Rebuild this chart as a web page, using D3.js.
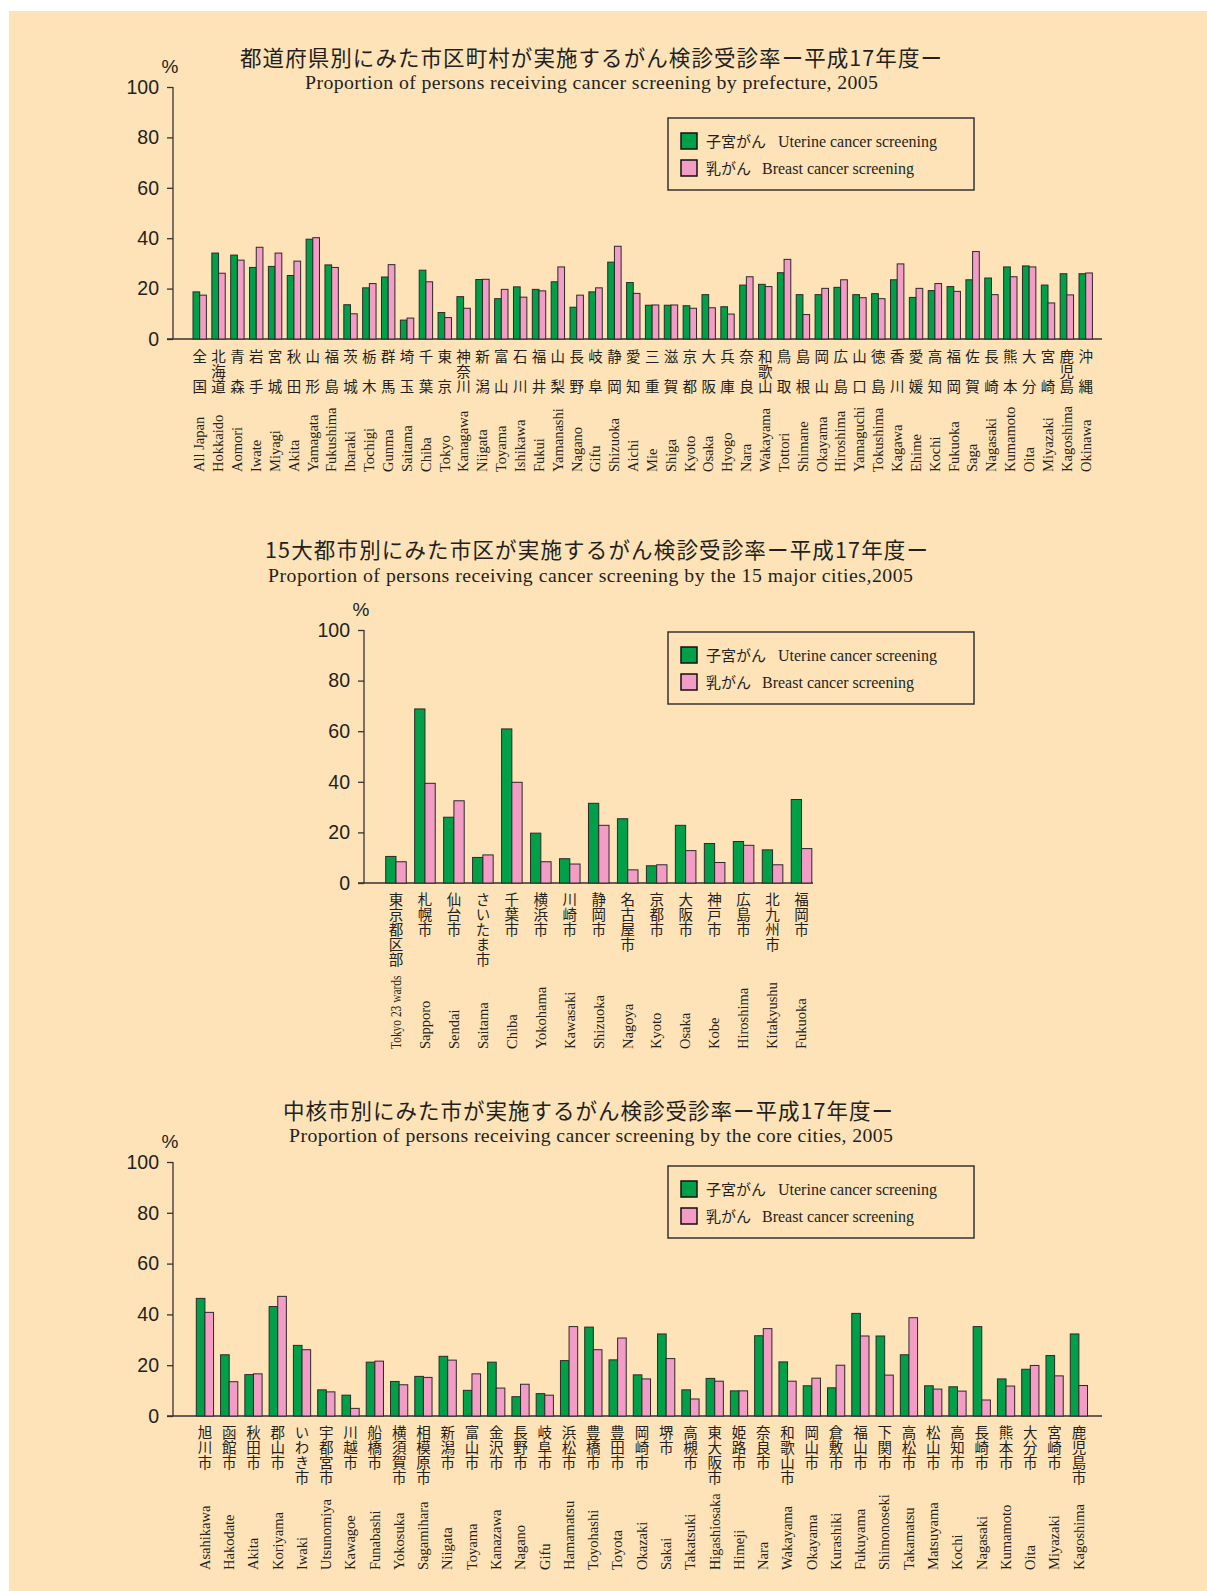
<!DOCTYPE html>
<html lang="ja">
<head>
<meta charset="UTF-8">
<title>がん検診受診率 平成17年度</title>
<script src="https://d3js.org/d3.v7.min.js"></script>
<style>
  body { margin: 0; background: #fff; }
  .jp { font-family: "Noto Sans CJK JP", "Noto Sans", sans-serif; fill: #231f20; }
  .en { font-family: "Liberation Serif", "DejaVu Serif", serif; fill: #231f20; }
  .num { font-family: "Liberation Sans", Arial, sans-serif; fill: #231f20; }
  .vert { writing-mode: vertical-rl; }
</style>
</head>
<body>
<div id="chart"></div>
<script>
// ---- data ----
var yTicks = [0, 20, 40, 60, 80, 100];
var seriesKeys = ["uterine", "breast"];
var seriesJa = ["子宮がん", "乳がん"];
var seriesEn = ["Uterine cancer screening", "Breast cancer screening"];
var seriesColor = ["#00a048", "#f39cc6"];

var prefJa = ["全国","北海道","青森","岩手","宮城","秋田","山形","福島","茨城","栃木","群馬","埼玉","千葉","東京","神奈川","新潟","富山","石川","福井","山梨","長野","岐阜","静岡","愛知","三重","滋賀","京都","大阪","兵庫","奈良","和歌山","鳥取","島根","岡山","広島","山口","徳島","香川","愛媛","高知","福岡","佐賀","長崎","熊本","大分","宮崎","鹿児島","沖縄"];
var prefEn = ["All Japan","Hokkaido","Aomori","Iwate","Miyagi","Akita","Yamagata","Fukushima","Ibaraki","Tochigi","Gunma","Saitama","Chiba","Tokyo","Kanagawa","Niigata","Toyama","Ishikawa","Fukui","Yamanashi","Nagano","Gifu","Shizuoka","Aichi","Mie","Shiga","Kyoto","Osaka","Hyogo","Nara","Wakayama","Tottori","Shimane","Okayama","Hiroshima","Yamaguchi","Tokushima","Kagawa","Ehime","Kochi","Fukuoka","Saga","Nagasaki","Kumamoto","Oita","Miyazaki","Kagoshima","Okinawa"];
var prefUterine = [18.7,34.1,33.3,28.4,28.8,25.2,39.6,29.4,13.6,20.3,24.6,7.5,27.3,10.5,16.8,23.6,16.0,20.7,19.7,22.7,12.6,18.7,30.5,22.4,13.4,13.4,13.2,17.6,12.8,21.4,21.7,26.3,17.6,17.6,20.5,17.6,18.0,23.5,16.5,19.2,20.8,23.5,24.2,28.6,29.0,21.4,25.9,25.9];
var prefBreast = [17.4,26.1,31.3,36.4,34.1,30.9,40.2,28.4,10.0,22.0,29.5,8.3,22.7,8.5,12.2,23.7,19.7,16.6,19.1,28.6,17.4,20.3,36.8,18.1,13.5,13.5,12.2,12.4,9.9,24.7,20.8,31.6,9.7,20.1,23.5,16.4,16.0,29.8,20.1,22.0,18.9,34.7,17.6,24.7,28.6,14.3,17.5,26.2];

var cityJa = ["東京都区部","札幌市","仙台市","さいたま市","千葉市","横浜市","川崎市","静岡市","名古屋市","京都市","大阪市","神戸市","広島市","北九州市","福岡市"];
var cityEn = ["Tokyo 23 wards","Sapporo","Sendai","Saitama","Chiba","Yokohama","Kawasaki","Shizuoka","Nagoya","Kyoto","Osaka","Kobe","Hiroshima","Kitakyushu","Fukuoka"];
var cityUterine = [10.5,68.8,26.0,10.1,60.9,19.7,9.6,31.5,25.4,6.8,22.8,15.6,16.4,13.1,33.0];
var cityBreast = [8.4,39.4,32.5,11.1,39.8,8.4,7.5,22.8,5.2,7.2,12.8,8.1,14.9,7.2,13.6];

var coreJa = ["旭川市","函館市","秋田市","郡山市","いわき市","宇都宮市","川越市","船橋市","横須賀市","相模原市","新潟市","富山市","金沢市","長野市","岐阜市","浜松市","豊橋市","豊田市","岡崎市","堺市","高槻市","東大阪市","姫路市","奈良市","和歌山市","岡山市","倉敷市","福山市","下関市","高松市","松山市","高知市","長崎市","熊本市","大分市","宮崎市","鹿児島市"];
var coreEn = ["Asahikawa","Hakodate","Akita","Koriyama","Iwaki","Utsunomiya","Kawagoe","Funabashi","Yokosuka","Sagamihara","Niigata","Toyama","Kanazawa","Nagano","Gifu","Hamamatsu","Toyohashi","Toyota","Okazaki","Sakai","Takatsuki","Higashiosaka","Himeji","Nara","Wakayama","Okayama","Kurashiki","Fukuyama","Shimonoseki","Takamatsu","Matsuyama","Kochi","Nagasaki","Kumamoto","Oita","Miyazaki","Kagoshima"];
var coreUterine = [46.3,24.1,16.3,43.1,27.8,10.3,8.2,21.2,13.6,15.6,23.5,10.1,21.2,7.6,8.8,21.8,35.0,22.1,16.2,32.3,10.3,14.8,9.9,31.6,21.3,11.9,11.1,40.4,31.5,24.1,11.9,11.5,35.2,14.6,18.4,23.8,32.3];
var coreBreast = [40.8,13.5,16.6,47.1,26.1,9.5,3.0,21.6,12.3,15.2,22.0,16.6,11.0,12.5,8.2,35.2,26.1,30.7,14.6,22.6,6.7,13.7,9.9,34.4,13.7,14.9,20.0,31.5,16.1,38.7,10.6,9.8,6.3,11.8,19.9,15.8,12.0];

var width = 1207, height = 1591;

var svg = d3.select("#chart").append("svg")
    .attr("width", width)
    .attr("height", height);

svg.append("rect")
    .attr("x", 9).attr("y", 11)
    .attr("width", width - 9).attr("height", height - 11)
    .attr("fill", "#fee3b8");

function drawChart(c) {
    var g = svg.append("g");
    var rows = c.ja.map(function(d, i) {
        return { ja: d, en: c.en[i], uterine: c.uterine[i], breast: c.breast[i] };
    });

    var y = d3.scaleLinear().domain([0, 100]).range([c.y0, c.y100]);
    var x = d3.scaleBand().domain(c.ja).range(c.barRange).paddingInner(0.29).paddingOuter(0);
    var xs = d3.scaleBand().domain(seriesKeys).range([0, x.bandwidth()]);

    // titles
    g.append("text").attr("class", "jp")
        .attr("x", c.titleX[0]).attr("y", c.titleY)
        .attr("font-size", 21.5)
        .attr("textLength", c.titleX[1] - c.titleX[0]).attr("lengthAdjust", "spacing")
        .text(c.title);
    g.append("text").attr("class", "en")
        .attr("x", c.subX[0]).attr("y", c.subY)
        .attr("font-size", 19.8)
        .attr("textLength", c.subX[1] - c.subX[0]).attr("lengthAdjust", "spacing")
        .text(c.subtitle);

    // y axis
    var yAxis = g.append("g")
        .attr("transform", "translate(" + c.axisX + ",0)")
        .call(d3.axisLeft(y).tickValues(yTicks).tickSize(6).tickPadding(8));
    yAxis.select(".domain").attr("stroke", "#333").attr("stroke-width", 1.3)
        .attr("d", "M0," + c.y0 + "V" + c.y100);
    yAxis.selectAll(".tick line").attr("stroke", "#333").attr("stroke-width", 1.3);
    yAxis.selectAll(".tick text")
        .attr("class", "num")
        .attr("font-size", 19.5)
        .attr("fill", "#231f20");

    g.append("text").attr("class", "num")
        .attr("x", c.axisX - 3).attr("y", c.y100 - 14)
        .attr("text-anchor", "middle")
        .attr("font-size", 19)
        .text("%");

    // x axis baseline
    g.append("line")
        .attr("x1", c.axisX - 6).attr("x2", c.axisEnd)
        .attr("y1", y(0)).attr("y2", y(0))
        .attr("stroke", "#333").attr("stroke-width", 1.3);

    // bars
    var grp = g.selectAll(".cat").data(rows).enter().append("g")
        .attr("transform", function(d) { return "translate(" + x(d.ja) + ",0)"; });
    grp.selectAll("rect")
        .data(function(d) { return seriesKeys.map(function(k, i) { return { key: k, value: d[k], color: seriesColor[i] }; }); })
        .enter().append("rect")
        .attr("x", function(d) { return xs(d.key); })
        .attr("width", xs.bandwidth())
        .attr("y", function(d) { return y(d.value); })
        .attr("height", function(d) { return y(0) - y(d.value); })
        .attr("fill", function(d) { return d.color; })
        .attr("stroke", "#2a2a2a")
        .attr("stroke-width", 1);

    // japanese labels, set vertically (15px per row; 2-char prefecture names skip the middle row)
    var jaStart = y(0) + c.jaTop - 7.5;
    function jaRows(d) {
        var n = Array.from(d.ja).length;
        return (c.spread && n === 2) ? 3 : n;
    }
    g.selectAll(".jlab").data(rows).enter().append("text")
        .attr("class", "jp vert")
        .attr("font-size", 14.5)
        .attr("text-anchor", "start")
        .attr("x", function(d) { return x(d.ja) + x.bandwidth() / 2; })
        .attr("y", jaStart)
        .style("letter-spacing", function(d) {
            return (c.spread && Array.from(d.ja).length === 2) ? "15.5px" : "0.5px";
        })
        .text(function(d) { return d.ja; });

    // english labels, rotated, reading upward from a common bottom line
    g.selectAll(".elab").data(rows).enter().append("text")
        .attr("class", "en")
        .attr("font-size", 14.5)
        .attr("text-anchor", "start")
        .attr("transform", function(d) {
            return "translate(" + (x(d.ja) + x.bandwidth() / 2) + "," + c.enBottom + ") rotate(-90)";
        })
        .attr("dy", "0.33em")
        .text(function(d) { return d.en; })
        .each(function(d) {
            // squeeze a label that would run into its Japanese name
            var room = c.enBottom - (jaStart + jaRows(d) * 15) - 8;
            if (this.getComputedTextLength() > room) {
                d3.select(this).attr("textLength", room).attr("lengthAdjust", "spacingAndGlyphs");
            }
        });

    // legend
    var lg = g.append("g").attr("transform", "translate(" + c.legend[0] + "," + c.legend[1] + ")");
    lg.append("rect")
        .attr("width", 306).attr("height", 72)
        .attr("fill", "none").attr("stroke", "#333").attr("stroke-width", 1.5);
    seriesKeys.forEach(function(k, i) {
        var row = lg.append("g").attr("transform", "translate(0," + (i * 27) + ")");
        row.append("rect")
            .attr("x", 13).attr("y", 15)
            .attr("width", 16).attr("height", 16)
            .attr("fill", seriesColor[i]).attr("stroke", "#111").attr("stroke-width", 1.5);
        row.append("text").attr("class", "jp")
            .attr("x", 38).attr("y", 29)
            .attr("font-size", 15)
            .text(seriesJa[i]);
        row.append("text").attr("class", "en")
            .attr("x", i === 0 ? 110 : 94).attr("y", 29)
            .attr("font-size", 16)
            .text(seriesEn[i]);
    });
}

drawChart({
    ja: prefJa, en: prefEn, uterine: prefUterine, breast: prefBreast,
    title: "都道府県別にみた市区町村が実施するがん検診受診率ー平成17年度ー",
    subtitle: "Proportion of persons receiving cancer screening by prefecture, 2005",
    titleX: [240, 942], titleY: 66, subX: [305, 878], subY: 89,
    axisX: 173, y0: 339, y100: 87, barRange: [193, 1092.4], axisEnd: 1102,
    spread: true, jaTop: 18, enBottom: 472, legend: [668, 118]
});

drawChart({
    ja: cityJa, en: cityEn, uterine: cityUterine, breast: cityBreast,
    title: "15大都市別にみた市区が実施するがん検診受診率ー平成17年度ー",
    subtitle: "Proportion of persons receiving cancer screening by the 15 major cities,2005",
    titleX: [265, 928], titleY: 558, subX: [268, 913], subY: 582,
    axisX: 364, y0: 883, y100: 630, barRange: [385.7, 811.8], axisEnd: 813,
    spread: false, jaTop: 17, enBottom: 1049, legend: [668, 632]
});

drawChart({
    ja: coreJa, en: coreEn, uterine: coreUterine, breast: coreBreast,
    title: "中核市別にみた市が実施するがん検診受診率ー平成17年度ー",
    subtitle: "Proportion of persons receiving cancer screening by the core cities, 2005",
    titleX: [283, 893], titleY: 1119, subX: [289, 893], subY: 1142,
    axisX: 173, y0: 1416, y100: 1162, barRange: [196.3, 1087.5], axisEnd: 1102,
    spread: false, jaTop: 17, enBottom: 1570, legend: [668, 1166]
});
</script>
</body>
</html>
